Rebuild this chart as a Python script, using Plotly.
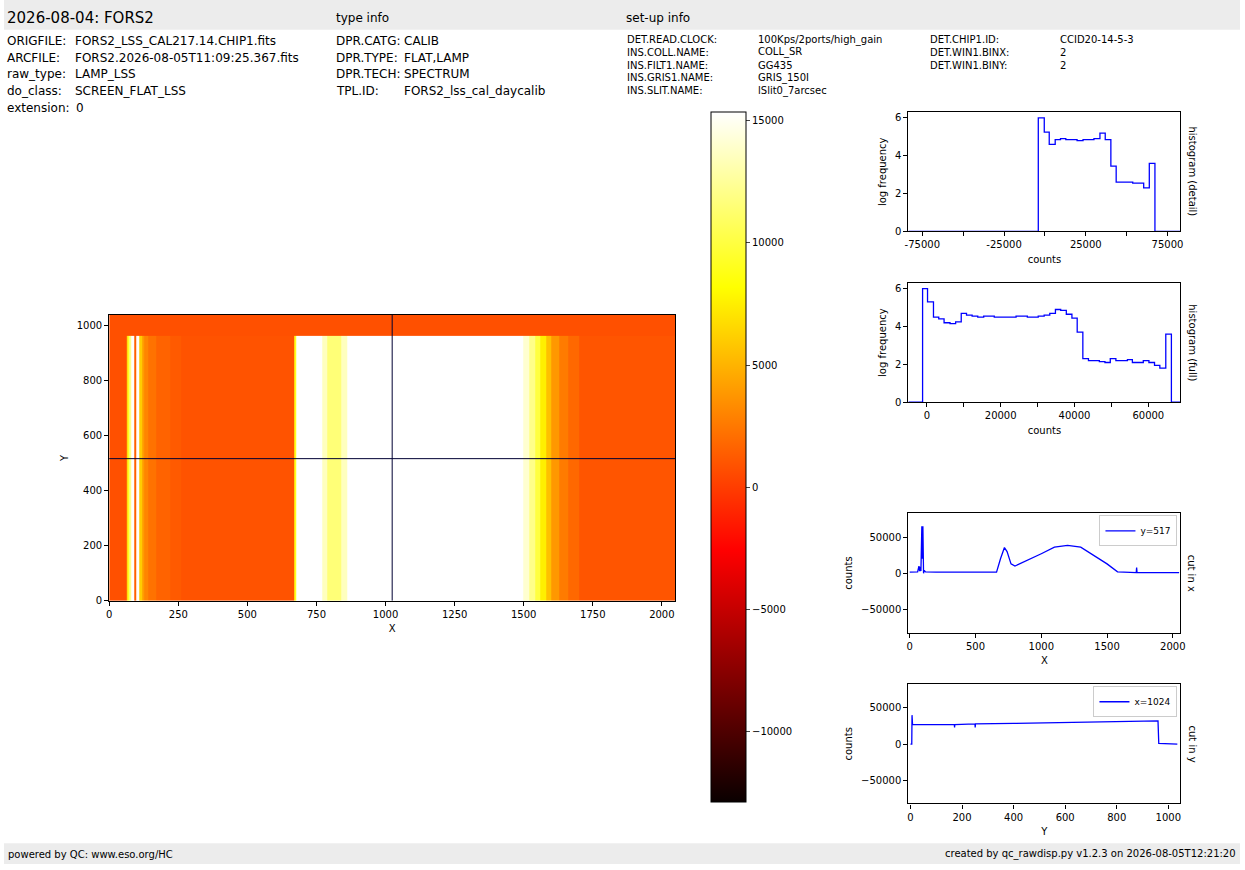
import plotly.graph_objects as go

W, H = 1245, 870
FONT = "DejaVu Sans"

# ---------------- data ----------------
img_col_edges = [0, 60, 66, 72, 78, 92, 98, 110, 118, 128, 140, 170, 220, 260, 668, 675, 770, 790, 840, 860,
                 1480, 1500, 1520, 1540, 1560, 1580, 1600, 1630, 1660, 1700, 2048]
img_col_slit = [800, 2500, 9000, 12000, 16000, 1500, 16000, 6000, 4000, 3000, 2200, 1600, 1200, 900, 9000, 17000,
                13500, 11500, 13500, 20000, 15500, 14000, 12000, 10000, 7500, 5500, 3800, 2600, 1800, 1000]
img_col_top = [800, 800, 800, 800, 800, 800, 800, 800, 800, 800, 800, 800, 800, 800, 800,
               800, 800, 800, 800, 800, 800, 800, 800, 800, 800, 800, 800, 800, 800, 800]
img_row_edges = [0, 965, 1040]

hd_x = [-83500, -4050, -400, 2640, 6290, 9530, 12780, 19670, 23320, 30000, 33660, 36900, 40340, 43590, 53720, 60420, 63860, 67300, 82900]
hd_y = [0, 6, 5.25, 4.6, 4.85, 4.9, 4.85, 4.8, 4.85, 4.9, 5.2, 4.85, 3.45, 2.6, 2.55, 2.3, 3.6, 0, 0]

hf_x = [-5000, -1160, 180, 1790, 3220, 4660, 6270, 7790, 9310, 10740, 12260, 13790, 15400, 18260, 24170, 27220, 30170, 31780,
        33300, 34830, 36260, 37780, 39300, 40730, 42260, 43780, 46730, 48250, 49690, 51210, 54340, 55680, 58640, 60160,
        61680, 63120, 64730, 66250, 68700]
hf_y = [0, 6, 5.3, 4.5, 4.4, 4.2, 4.15, 4.25, 4.7, 4.6, 4.55, 4.5, 4.55, 4.5, 4.55, 4.5, 4.55, 4.6,
        4.7, 4.9, 4.85, 4.65, 4.45, 3.7, 2.3, 2.2, 2.15, 2.1, 2.3, 2.2, 2.25, 2.1, 2.2,
        2.1, 1.95, 1.8, 3.6, 0, 0]

cx_x = [0, 60, 70, 75, 80, 85, 92, 95, 100, 102, 105, 110, 120, 200, 660, 690, 720, 740, 770, 800, 850, 1000, 1100, 1200,
        1300, 1400, 1500, 1580, 1650, 1722, 1725, 1728, 2048]
cx_y = [1500, 2000, 10000, 3000, 9000, 3000, 65000, 20000, 65000, 3000, 0, 4000, 2000, 1500, 1500, 20000, 35500, 30000,
        13000, 10000, 14000, 27000, 36000, 38500, 36000, 25000, 13000, 2000, 1000, 1000, 8000, 1000, 1000]

cy_x = [0, 5, 6, 8, 170, 171, 172, 250, 251, 252, 400, 500, 650, 800, 960, 963, 1035]
cy_y = [0, 0, 40000, 27000, 27000, 23000, 27000, 28000, 23000, 28000, 28500, 29000, 30000, 31000, 32000, 1000, 0]

cut_x_pos = 1024
cut_y_pos = 517

def fx(px): return px / W
def fy(py): return 1 - py / H

hot = [[0.0, "rgb(10,0,0)"], [0.365, "rgb(255,0,0)"], [0.746, "rgb(255,255,0)"], [1.0, "rgb(255,255,255)"]]

fig = go.Figure()
fig.add_trace(go.Heatmap(
    x=img_col_edges, y=img_row_edges, z=[img_col_slit, img_col_top],
    colorscale=hot, zmin=-12880, zmax=15325, xaxis="x", yaxis="y",
    colorbar=dict(x=fx(712), xanchor="left", xref="paper", y=fy(808), yanchor="bottom", len=695 / H,
                  lenmode="fraction", thickness=35, thicknessmode="pixels", outlinecolor="black", outlinewidth=1,
                  xpad=0, ypad=0,
                  tickvals=[-10000, -5000, 0, 5000, 10000, 15000], tickformat="d", ticks="outside", ticklen=4,
                  tickfont=dict(size=10, family=FONT, color="black")),
    showscale=True, hoverinfo="skip"))

fig.add_trace(go.Scatter(x=hd_x, y=hd_y, mode="lines", line=dict(color="blue", width=1.3, shape="hv"),
                         xaxis="x2", yaxis="y2", showlegend=False))
fig.add_trace(go.Scatter(x=hf_x, y=hf_y, mode="lines", line=dict(color="blue", width=1.3, shape="hv"),
                         xaxis="x3", yaxis="y3", showlegend=False))
fig.add_trace(go.Scatter(x=cx_x, y=cx_y, mode="lines", line=dict(color="blue", width=1.3),
                         xaxis="x4", yaxis="y4", name=f"y={cut_y_pos}", legend="legend"))
fig.add_trace(go.Scatter(x=cy_x, y=cy_y, mode="lines", line=dict(color="blue", width=1.3),
                         xaxis="x5", yaxis="y5", name=f"x={cut_x_pos}", legend="legend2"))

tf = dict(size=10, family=FONT, color="black")
def ax(domain, rng, **kw):
    d = dict(domain=domain, range=rng, showgrid=False, zeroline=False, showline=True, linecolor="black",
             linewidth=1.2, mirror=True, ticks="outside", ticklen=4, tickcolor="black", tickfont=tf, tickformat="d")
    d.update(kw)
    return d

def title(t): return dict(text=t, font=dict(size=10, family=FONT, color="black"), standoff=6)

xd_img = [fx(106), fx(676)]
xd_r = [fx(911), fx(1185)]
fig.update_layout(
    width=W, height=H, margin=dict(l=0, r=0, t=0, b=0), paper_bgcolor="white", plot_bgcolor="white",
    font=dict(family=FONT, color="black"),
    xaxis=ax(xd_img, [0, 2048], anchor="y", tickvals=list(range(0, 2049, 250)), title=title("X")),
    yaxis=ax([fy(605), fy(317)], [0, 1040], anchor="x", tickvals=list(range(0, 1001, 200)), title=title("Y")),
    xaxis2=ax(xd_r, [-83500, 82900], anchor="y2", tickvals=[-75000, -50000, -25000, 0, 25000, 50000, 75000],
              ticktext=["-75000", "", "-25000", "", "25000", "", "75000"], title=title("counts")),
    yaxis2=ax([fy(233), fy(113)], [0, 6.3], anchor="x2", tickvals=[0, 2, 4, 6], title=title("log frequency")),
    xaxis3=ax(xd_r, [-5000, 68700], anchor="y3", tickvals=[0, 10000, 20000, 30000, 40000, 50000, 60000],
              ticktext=["0", "", "20000", "", "40000", "", "60000"], title=title("counts")),
    yaxis3=ax([fy(405), fy(285)], [0, 6.3], anchor="x3", tickvals=[0, 2, 4, 6], title=title("log frequency")),
    xaxis4=ax(xd_r, [-10, 2058], anchor="y4", tickvals=[0, 500, 1000, 1500, 2000], title=title("X")),
    yaxis4=ax([fy(637), fy(517)], [-82000, 82700], anchor="x4", tickvals=[-50000, 0, 50000], title=title("counts")),
    xaxis5=ax(xd_r, [-8, 1047], anchor="y5", tickvals=[0, 200, 400, 600, 800, 1000], title=title("Y")),
    yaxis5=ax([fy(809), fy(689)], [-82000, 82700], anchor="x5", tickvals=[-50000, 0, 50000], title=title("counts")),
    legend=dict(x=fx(1182), y=fy(519), xanchor="right", yanchor="top", bgcolor="white", bordercolor="#cccccc",
                borderwidth=1, font=dict(size=9, family=FONT), itemwidth=30, tracegroupgap=0),
    legend2=dict(x=fx(1182), y=fy(691), xanchor="right", yanchor="top", bgcolor="white", bordercolor="#cccccc",
                 borderwidth=1, font=dict(size=9, family=FONT), itemwidth=30, tracegroupgap=0),
)

shapes = [
    dict(type="rect", xref="paper", yref="paper", x0=0, x1=1, y0=fy(30), y1=1, fillcolor="#ececec", line_width=0, layer="below"),
    dict(type="rect", xref="paper", yref="paper", x0=0, x1=1, y0=0, y1=fy(849), fillcolor="#ececec", line_width=0, layer="below"),
    dict(type="line", xref="x", yref="y", x0=cut_x_pos, x1=cut_x_pos, y0=0, y1=1050, line=dict(color="#000033", width=1)),
    dict(type="line", xref="x", yref="y", x0=-20, x1=2070, y0=cut_y_pos, y1=cut_y_pos, line=dict(color="#000033", width=1)),
]
fig.update_layout(shapes=shapes)

anns = []
def txt(x, y, s, size=12, **kw):
    d = dict(x=fx(x), y=fy(y), xref="paper", yref="paper", text=s, showarrow=False, xanchor="left", yanchor="middle",
             font=dict(size=size, family=FONT, color="black"), borderpad=0)
    d.update(kw)
    anns.append(d)

txt(2, 18, "2026-08-04: FORS2", 15)
txt(333, 18, "type info", 12)
txt(626, 18, "set-up info", 12)
rows = [("ORIGFILE:", "FORS2_LSS_CAL217.14.CHIP1.fits"), ("ARCFILE:", "FORS2.2026-08-05T11:09:25.367.fits"),
        ("raw_type:", "LAMP_LSS"), ("do_class:", "SCREEN_FLAT_LSS"), ("extension:", "0")]
for i, (a, b) in enumerate(rows):
    y = 41 + i * 17
    txt(2, y, a)
    txt(71 if a != "extension:" else 72, y, b)
trows = [("DPR.CATG:", "CALIB"), ("DPR.TYPE:", "FLAT,LAMP"), ("DPR.TECH:", "SPECTRUM"), ("TPL.ID:", "FORS2_lss_cal_daycalib")]
for i, (a, b) in enumerate(trows):
    y = 41 + i * 17
    txt(333, y, a)
    txt(402, y, b)
srows = [("DET.READ.CLOCK:", "100Kps/2ports/high_gain"), ("INS.COLL.NAME:", "COLL_SR"), ("INS.FILT1.NAME:", "GG435"),
         ("INS.GRIS1.NAME:", "GRIS_150I"), ("INS.SLIT.NAME:", "lSlit0_7arcsec")]
for i, (a, b) in enumerate(srows):
    y = 40 + i * 12.8
    txt(627, y, a, 10)
    txt(758, y, b, 10)
s2 = [("DET.CHIP1.ID:", "CCID20-14-5-3"), ("DET.WIN1.BINX:", "2"), ("DET.WIN1.BINY:", "2")]
for i, (a, b) in enumerate(s2):
    y = 40 + i * 12.8
    txt(932, y, a, 10)
    txt(1063, y, b, 10)
txt(3, 860, "powered by QC: www.eso.org/HC", 10)
txt(1242, 860, "created by qc_rawdisp.py v1.2.3 on 2026-08-05T12:21:20", 10, xanchor="right")
for y0, s in [(173, "histogram (detail)"), (345, "histogram (full)"), (577, "cut in x"), (749, "cut in y")]:
    anns.append(dict(x=fx(1197), y=fy(y0), xref="paper", yref="paper", text=s, showarrow=False, textangle=90,
                     xanchor="center", yanchor="middle", font=dict(size=10, family=FONT, color="black")))
fig.update_layout(annotations=anns)

fig.write_html("out.html", config={"displayModeBar": False})
with open("out.html", encoding="utf-8") as f:
    html = f.read()
html = html.replace("<head>", "<head><style>html,body{margin:0;padding:0;overflow:hidden;width:1245px;height:870px}"
                    ".plotly-graph-div{display:block}</style>", 1)
with open("out.html", "w", encoding="utf-8") as f:
    f.write(html)
